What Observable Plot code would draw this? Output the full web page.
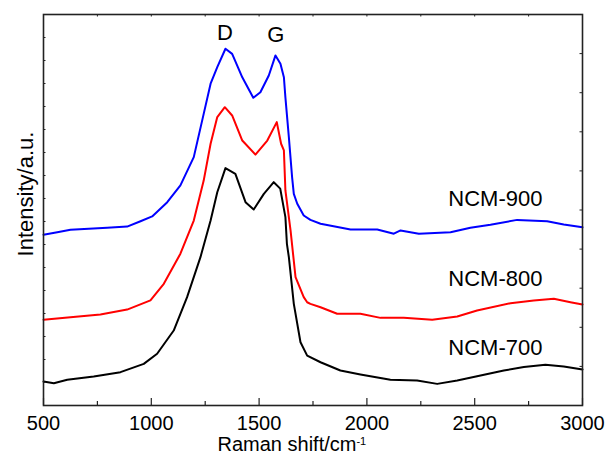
<!DOCTYPE html>
<html><head><meta charset="utf-8">
<script src="https://cdn.jsdelivr.net/npm/d3@7"></script>
<script src="https://cdn.jsdelivr.net/npm/@observablehq/plot@0.6"></script>
<style>body{margin:0;background:#fff}</style>
</head><body><div id="chart"></div>
<script>
// Raman shift (cm^-1) and intensity (a.u., stacked offsets)
const shift900 = [500,564,625,795,888,950,1004,1074,1135,1197,1243,1275,1306,1344,1375,1422,1473,1506,1545,1576,1599,1615,1622,1638,1653,1661,1677,1707,1738,1785,1924,2048,2125,2156,2241,2388,2480,2573,2697,2836,2913,3000];
const int900   = [7.42,7.53,7.64,7.73,7.78,8.01,8.22,8.84,9.57,10.80,12.68,13.99,14.71,15.51,15.29,14.27,13.38,13.62,14.35,15.22,14.86,14.27,13.40,11.67,9.93,9.20,8.77,8.26,8.07,7.90,7.65,7.65,7.47,7.61,7.47,7.53,7.73,7.86,8.07,8.01,7.87,7.75];
const shift800 = [500,625,764,888,996,1058,1135,1197,1243,1275,1306,1341,1375,1422,1483,1538,1582,1602,1615,1622,1646,1669,1707,1723,1738,1785,1862,1970,2063,2171,2303,2419,2511,2666,2774,2867,2944,3000];
const int800   = [3.73,3.84,3.96,4.17,4.57,5.29,6.60,8.04,9.78,11.38,12.54,12.97,12.61,11.52,10.91,11.52,12.32,11.38,11.09,9.35,7.6,5.58,4.71,4.49,4.42,4.27,3.99,3.99,3.81,3.81,3.73,3.87,4.13,4.45,4.57,4.64,4.49,4.39];
const shift700 = [500,548,610,733,857,965,1027,1104,1166,1228,1275,1306,1344,1390,1437,1475,1522,1568,1598,1622,1629,1638,1661,1692,1723,1785,1877,1970,2109,2233,2326,2419,2511,2635,2728,2828,2913,3000];
const int700   = [1.04,0.97,1.12,1.26,1.45,1.81,2.25,3.26,4.71,6.45,8.04,9.27,10.32,10.07,8.84,8.52,9.20,9.71,9.43,8.19,7.03,6.45,4.42,2.75,2.17,1.88,1.52,1.35,1.12,1.09,0.94,1.09,1.27,1.52,1.67,1.77,1.70,1.57];

const samples = ["NCM-700","NCM-800","NCM-900"];
const sampleColors = ["#000000","#ff0000","#0000ff"];
const sampleLabelX = [2596,2596,2596];
const sampleLabelY = [2.5,5.52,8.99];

const peakNames = ["D","G"];
const peakX = [1342,1578];
const peakY = [16.2,16.09];

const xTickLabels = [500,1000,1500,2000,2500,3000];
const xMinorTicks = [750,1250,1750,2250,2750];
const xTopTicks = [750,1000,1250,1500,1750,2000,2250,2500,2750];
const yLeftTicks = [1,2,3,4,5,6,7,8,9,10,11,12,13,14,15,16];
const yRightTicks = [1.7,3.4,5.1,6.8,8.5,10.2,11.9,13.6,15.3];

const rows = [];
[[shift700,int700,"NCM-700"],[shift800,int800,"NCM-800"],[shift900,int900,"NCM-900"]].forEach(([xs,ys,s]) => {
  xs.forEach((x,i) => rows.push({shift:x, intensity:ys[i], sample:s}));
});
const sampleLabels = samples.map((s,i) => ({text:s, x:sampleLabelX[i], y:sampleLabelY[i]}));
const peakLabels = peakNames.map((p,i) => ({text:p, x:peakX[i], y:peakY[i]}));

const W = 606, H = 459, mL = 43, mR = 24, mT = 14, mB = 54;
const pw = W - mL - mR, ph = H - mT - mB;
const ink = "#222";

const chart = Plot.plot({
  width: W, height: H,
  marginLeft: mL, marginRight: mR, marginTop: mT, marginBottom: mB,
  x: {domain: [500,3000]},
  y: {domain: [0,17], axis: null},
  color: {domain: samples, range: sampleColors},
  style: {fontFamily: "'Liberation Sans', Arial, sans-serif", fontSize: "20px", color: "#000", background: "#fff"},
  marks: [
    Plot.line(rows, {x:"shift", y:"intensity", z:"sample", stroke:"sample", strokeWidth:2, curve:"linear"}),
    Plot.frame({stroke: ink, strokeWidth: 1.6}),
    Plot.ruleX(xTickLabels, {x: d => d, insetTop: ph - 7, stroke: ink, strokeWidth: 1.2}),
    Plot.ruleX(xMinorTicks, {x: d => d, insetTop: ph - 4, stroke: ink, strokeWidth: 1.2}),
    Plot.ruleX(xTopTicks, {x: d => d, insetBottom: ph - 2.5, stroke: ink, strokeWidth: 1}),
    Plot.ruleY(yLeftTicks, {y: d => d, insetRight: pw - 2.5, stroke: ink, strokeWidth: 1}),
    Plot.ruleY(yRightTicks, {y: d => d, insetLeft: pw - 2.5, stroke: ink, strokeWidth: 1}),
    Plot.axisX({ticks: xTickLabels, tickFormat: d => String(d), tickSize: 0, tickPadding: 10, label: null, fontSize: 20}),
    Plot.text(peakLabels, {x:"x", y:"y", text:"text", fontSize: 22, fill: "#000"}),
    Plot.text(sampleLabels, {x:"x", y:"y", text:"text", fontSize: 22, fill: "#000"}),
    Plot.text(["Intensity/a.u."], {frameAnchor: "left", textAnchor: "middle", dx: -18, dy: -16, rotate: -90, fontSize: 22, fill: "#000"}),
    Plot.text(["Raman shift/cm"], {frameAnchor: "bottom-left", textAnchor: "start", dx: 174, dy: 45.5, fontSize: 20, fill: "#000"})
  ]
});

d3.select(chart).selectAll("text").filter(function() { return this.textContent === "Raman shift/cm"; })
  .append("tspan").attr("dy", "-0.55em").attr("font-size", "11px").text("-1");

document.getElementById("chart").appendChild(chart);
</script>
</body></html>
